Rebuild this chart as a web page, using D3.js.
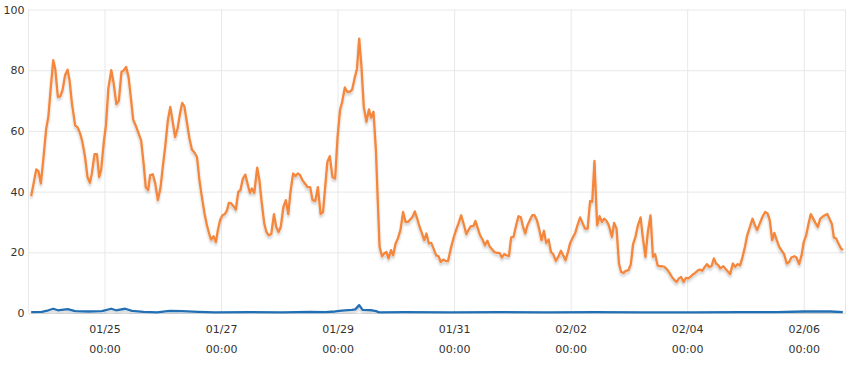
<!DOCTYPE html>
<html>
<head>
<meta charset="utf-8">
<script src="https://cdn.jsdelivr.net/npm/d3@7"></script>
<style>
  html, body { margin: 0; padding: 0; background: #fff; }
  svg { display: block; }
  .tick text { font-family: "DejaVu Sans", sans-serif; font-size: 11px; fill: #333; }
</style>
</head>
<body>
<svg id="chart"></svg>
<script>
// hours counted from 01/23 00:00
const startDay = new Date(2019, 0, 23);
const domainHours = [16.7, 353.2];
const yTicks = [0, 20, 40, 60, 80, 100];

const orangeHours = [17.8,19.9,20.8,21.8,22.9,24.0,24.9,25.9,26.9,27.7,28.8,29.8,30.7,31.8,32.8,33.6,34.6,35.9,37.0,38.0,38.9,40.0,41.0,42.0,42.8,43.9,44.9,45.8,46.6,47.8,48.6,49.6,50.8,51.7,52.9,53.9,55.0,56.0,56.9,57.9,58.9,59.8,61.1,62.0,63.1,64.1,65.0,66.0,66.8,67.9,68.9,70.0,71.1,72.0,73.0,74.1,
  75.1,76.0,77.1,78.1,79.1,80.0,80.9,81.9,83.0,84.0,85.1,86.1,87.1,88.1,89.2,90.2,91.1,91.9,92.9,93.9,94.7,95.6,96.6,97.6,98.5,99.2,100.2,101.1,102.1,103.1,104.0,105.0,106.0,106.9,107.9,108.7,109.7,110.9,111.8,112.8,113.8,114.7,115.7,116.7,117.8,118.7,119.7,120.6,121.7,122.7,123.7,124.6,125.7,126.7,127.6,128.6,129.5,130.7,131.6,
  132.7,133.7,134.8,135.9,137.0,138.0,138.9,139.8,140.8,141.9,143.0,144.0,145.0,145.9,147.0,148.0,149.1,150.0,151.0,152.0,152.9,153.8,154.8,155.9,156.9,157.8,158.8,159.8,160.6,161.3,162.3,163.2,164.1,165.0,166.0,166.9,167.9,168.8,169.9,171.0,172.0,173.0,173.9,174.9,175.8,176.8,177.7,178.7,179.7,180.6,181.6,182.6,183.5,184.6,185.6,186.5,187.5,188.4,189.5,
  190.8,191.9,192.8,193.8,194.9,195.9,197.0,197.9,198.9,199.9,200.8,201.8,202.7,203.7,204.7,205.7,206.7,207.7,208.6,209.6,210.7,211.7,212.6,213.6,214.6,215.5,216.5,217.4,218.5,219.5,220.4,221.3,222.2,223.2,224.2,225.1,226.1,227.0,228.0,229.0,229.9,230.9,231.9,232.8,233.9,234.9,236.0,236.9,237.9,238.9,239.8,240.9,241.9,242.8,243.9,244.9,245.9,247.0,
  248.0,248.9,249.8,250.9,251.9,252.9,253.8,254.8,255.7,257.0,257.9,258.9,259.9,260.8,261.8,262.7,263.8,264.8,265.7,266.7,267.7,268.8,269.7,270.8,271.8,272.9,273.9,274.8,275.8,276.7,277.7,278.6,279.8,280.7,281.7,282.6,283.6,284.6,285.5,286.5,287.5,288.4,289.3,290.3,291.3,292.2,293.2,294.2,295.1,296.1,297.1,298.0,299.0,299.9,300.9,
  301.6,302.9,304.3,305.7,306.8,307.8,308.7,309.8,310.8,311.8,312.7,313.6,314.9,315.9,316.8,317.8,319.0,320.1,321.1,322.0,323.0,323.9,324.9,325.9,327.0,327.9,329.0,330.0,330.9,332.1,333.0,334.1,335.1,336.0,337.0,338.0,338.9,339.9,340.8,341.8,342.8,343.7,344.7,345.7,346.6,347.6,348.4,349.4,350.3,351.3,352.1];

const orangeValues = [38.5,47.3,46.8,42.7,51.4,60.8,64.8,74.5,83.3,80.5,71.2,71.4,73.4,78.4,80.2,76.7,69.0,61.9,61.1,59.1,56.4,51.4,44.8,42.9,46.0,52.3,52.3,44.8,47.1,56.9,61.9,74.0,80.0,76.1,68.8,69.9,79.4,80.0,81.1,77.8,70.7,63.8,61.3,59.3,56.9,49.3,41.4,40.5,45.4,45.7,42.7,37.2,41.5,48.1,54.7,63.5,
  67.9,63.5,58.0,60.8,65.7,69.2,68.1,63.0,57.5,53.9,52.8,51.4,43.8,38.3,32.8,28.9,26.2,24.2,25.3,23.4,27.3,30.6,32.2,32.6,33.9,36.3,36.1,35.2,34.1,39.9,40.5,44.3,45.6,42.7,39.6,41.0,39.6,47.9,43.8,36.1,29.5,26.7,25.6,26.0,32.6,28.4,26.7,28.4,35.0,37.2,32.6,39.9,46.0,45.1,46.0,45.4,43.8,42.5,41.5,
  41.5,37.2,36.9,41.5,32.6,33.3,41.5,49.8,51.7,44.8,44.3,58.0,66.8,69.6,74.3,72.9,72.9,73.6,77.3,80.5,90.4,81.6,67.9,63.0,67.1,64.4,66.3,53.6,36.1,21.8,18.7,19.6,20.1,18.0,20.7,19.0,22.9,24.5,27.3,33.3,30.0,30.0,30.8,31.7,33.5,31.1,28.6,26.4,24.0,26.2,22.9,23.1,21.3,19.0,18.7,16.8,17.6,17.2,17.1,
  21.8,25.1,27.3,29.5,32.2,29.5,26.0,27.3,28.6,28.6,30.3,27.8,25.6,24.2,22.3,23.8,21.8,20.9,20.1,19.8,19.8,18.3,19.4,19.0,18.8,24.9,25.1,28.4,31.9,31.5,28.4,26.2,28.9,30.6,32.2,32.2,30.6,27.8,24.0,27.1,23.1,24.2,20.1,19.4,17.2,18.5,20.5,19.0,17.4,20.1,23.1,24.9,26.4,28.9,31.5,29.7,27.8,27.8,
  36.9,36.6,50.1,28.9,31.9,30.0,31.1,30.3,28.9,25.1,29.7,27.8,16.3,13.5,13.2,13.9,14.1,16.1,22.7,25.1,28.9,31.5,25.1,18.5,26.7,32.2,18.5,19.4,15.7,15.4,15.4,15.2,14.3,13.2,11.9,11.0,10.2,11.4,11.9,10.2,11.6,11.4,11.9,12.7,13.2,13.9,14.3,13.9,15.0,16.1,15.2,15.4,18.0,16.3,15.7,
  14.7,15.4,14.1,12.8,16.3,15.2,16.1,15.7,18.5,21.8,25.6,27.8,31.1,28.9,27.3,29.3,31.7,33.3,32.8,30.6,24.0,26.4,24.0,21.8,20.5,19.4,16.3,16.8,18.3,18.7,18.3,16.1,19.0,23.4,25.6,29.5,32.6,31.1,29.7,28.4,31.1,31.7,32.2,32.6,31.1,29.3,24.9,24.5,22.9,21.3,20.7];

const blueHours = [17.8,22.2,24.9,26.9,28.8,32.8,35.9,41.4,46.9,50.8,52.7,56.5,59.3,64.1,69.6,74.9,79.9,86.6,93.6,107.2,121.2,132.7,138.9,143.0,145.8,149.9,151.3,152.9,154.3,158.1,159.8,161.1,171.8,190.3,210,230,250,270,290,310,325,336,347,352.1];
const blueValues = [0.3,0.4,0.9,1.4,0.9,1.3,0.6,0.5,0.6,1.4,0.9,1.4,0.7,0.4,0.2,0.7,0.6,0.4,0.2,0.3,0.2,0.4,0.3,0.5,0.8,1.0,1.2,2.6,1.0,0.9,0.6,0.2,0.3,0.2,0.3,0.2,0.3,0.2,0.2,0.3,0.3,0.5,0.5,0.3];

const width = 853, height = 369;
const plotLeft = 28.5, plotRight = 845.5, plotTop = 9.5, plotBottom = 313;

const toDate = h => new Date(+startDay + h * 3600e3);

const svg = d3.select("#chart").attr("width", width).attr("height", height);

const defs = svg.append("defs");
defs.append("filter")
    .attr("id", "shadow")
    .attr("x", "-5%").attr("y", "-10%").attr("width", "110%").attr("height", "130%")
    .append("feDropShadow")
    .attr("dx", 0).attr("dy", 2.5)
    .attr("stdDeviation", 1.3)
    .attr("flood-color", "#000")
    .attr("flood-opacity", 0.2);

const x = d3.scaleTime().domain(domainHours.map(toDate)).range([plotLeft, plotRight]);
const y = d3.scaleLinear().domain([0, 100]).range([plotBottom, plotTop]);

// x ticks every 2 days starting 01/25
const xTicks = d3.timeDay.range(new Date(2019, 0, 25), toDate(domainHours[1])).filter((d, i) => i % 2 === 0);

// horizontal grid + y labels
const yAxis = svg.append("g")
    .attr("transform", `translate(${plotLeft},0)`)
    .call(d3.axisLeft(y).tickValues(yTicks).tickSize(-(plotRight - plotLeft)).tickPadding(4));
yAxis.select(".domain").remove();
yAxis.selectAll(".tick line").attr("stroke", "#e8e8e8");

// vertical grid + x labels
const xAxis = svg.append("g")
    .attr("transform", `translate(0,${plotBottom})`)
    .call(d3.axisBottom(x).tickValues(xTicks).tickSize(-(plotBottom - plotTop)).tickPadding(0));
xAxis.select(".domain").remove();
xAxis.selectAll(".tick line").attr("stroke", "#e8e8e8");
xAxis.selectAll(".tick text").each(function(d) {
    const t = d3.select(this).text(null).attr("y", 0).attr("dy", null);
    t.append("tspan").attr("x", 0).attr("y", 20).text(d3.timeFormat("%m/%d")(d));
    t.append("tspan").attr("x", 0).attr("y", 40).text(d3.timeFormat("%H:%M")(d));
});

// plot border sides
svg.append("line").attr("x1", plotLeft).attr("x2", plotLeft).attr("y1", plotTop).attr("y2", plotBottom).attr("stroke", "#e8e8e8");
svg.append("line").attr("x1", plotRight).attr("x2", plotRight).attr("y1", plotTop).attr("y2", plotBottom).attr("stroke", "#e8e8e8");

const line = d3.line()
    .x(d => x(toDate(d[0])))
    .y(d => y(d[1]));

svg.append("path")
    .datum(d3.zip(orangeHours, orangeValues))
    .attr("fill", "none")
    .attr("stroke", "#f5873d")
    .attr("stroke-width", 2.3)
    .attr("stroke-linejoin", "round")
    .attr("filter", "url(#shadow)")
    .attr("d", line);

svg.append("path")
    .datum(d3.zip(blueHours, blueValues))
    .attr("fill", "none")
    .attr("stroke", "#2370b3")
    .attr("stroke-width", 2.3)
    .attr("stroke-linejoin", "round")
    .attr("filter", "url(#shadow)")
    .attr("d", line);
</script>
</body>
</html>
